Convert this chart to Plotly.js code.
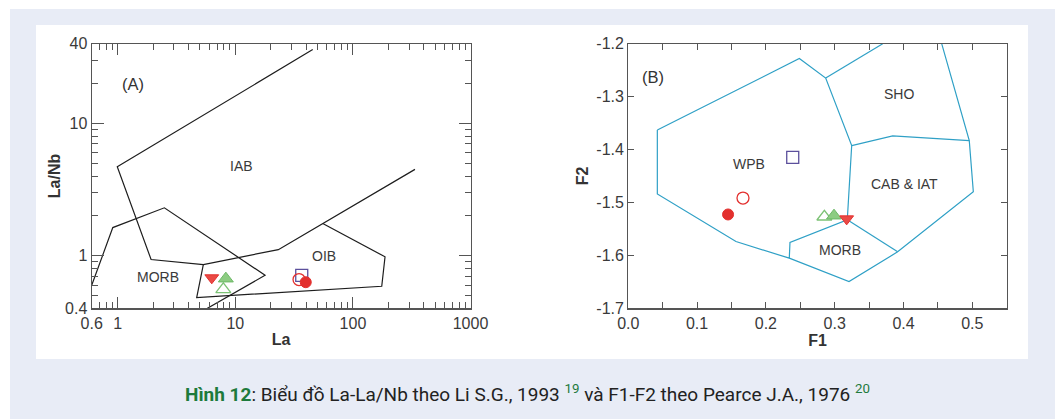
<!DOCTYPE html>
<html>
<head>
<meta charset="utf-8">
<script src="https://cdn.plot.ly/plotly-3.0.1.min.js"></script>
<style>
  html, body { margin: 0; padding: 0; background: #ffffff; }
  #chart { width: 1058px; height: 419px; }
</style>
</head>
<body>
<div id="chart"></div>
<script>
// ---------- Panel A: La vs La/Nb (log-log) ----------
// sample order: filled circle, open circle, down triangle, filled up triangle, open up triangle, open square
const aLa   = [39.7, 34.8, 6.3, 8.3, 7.9, 36.7];
const aLaNb = [0.63, 0.66, 0.68, 0.67, 0.557, 0.71];

// field boundaries (Li S.G., 1993)
const iabX  = [45.5, 0.99, 1.92, 5.34, 23.2, 55.4, 337];
const iabY  = [36.1, 4.70, 0.935, 0.857, 1.11, 1.75, 4.49];
const oibX  = [55.4, 187.5, 175.8, 4.69, 5.34];
const oibY  = [1.75, 0.98, 0.587, 0.482, 0.857];
const morbAX = [0.6, 0.907, 2.49, 17.9, 5.53];
const morbAY = [0.597, 1.63, 2.30, 0.711, 0.391];

const aXTicks = [0.6, 1, 10, 100, 1000];
const aXTickText = ['0.6', '1', '10', '100', '1000'];
const aXMinor = [0.7, 0.8, 0.9, 2, 3, 4, 5, 6, 7, 8, 9, 20, 30, 40, 50, 60, 70, 80, 90, 200, 300, 400, 500, 600, 700, 800, 900];
const aYTicks = [0.4, 1, 10, 40];
const aYTickText = ['0.4', '1', '10', '40'];
const aYMinor = [0.5, 0.6, 0.7, 0.8, 0.9, 2, 3, 4, 5, 6, 7, 8, 9, 20, 30];

const aFieldLabels = ['IAB', 'MORB', 'OIB'];
const aFieldLabelX = [11.3, 2.21, 56.8];
const aFieldLabelY = [4.77, 0.684, 1.0];

// ---------- Panel B: F1 vs F2 (Pearce J.A., 1976) ----------
const bF1 = [0.145, 0.1667, 0.3174, 0.299, 0.285, 0.239];
const bF2 = [-1.5227, -1.4917, -1.531, -1.525, -1.527, -1.4147];

const wpbX = [0.0422, 0.2486, 0.2869, 0.3247, 0.3183, 0.235, 0.234, 0.1565, 0.0422, 0.0422];
const wpbY = [-1.363, -1.228, -1.265, -1.3926, -1.5328, -1.5757, -1.6053, -1.5739, -1.484, -1.363];
const shoLeftX = [0.3698, 0.2869];
const shoLeftY = [-1.2, -1.265];
const cabTopX = [0.3247, 0.3843, 0.4956];
const cabTopY = [-1.3926, -1.3742, -1.3831];
const outerRightX = [0.4555, 0.4956, 0.5015, 0.3915, 0.3208, 0.234];
const outerRightY = [-1.2, -1.3831, -1.4797, -1.5933, -1.6496, -1.6053];
const morbTopX = [0.3183, 0.3915];
const morbTopY = [-1.5328, -1.5933];

const bXTicks = [0, 0.1, 0.2, 0.3, 0.4, 0.5];
const bXTickText = ['0.0', '0.1', '0.2', '0.3', '0.4', '0.5'];
const bYTicks = [-1.7, -1.6, -1.5, -1.4, -1.3, -1.2];
const bYTickText = ['-1.7', '-1.6', '-1.5', '-1.4', '-1.3', '-1.2'];

const bFieldLabels = ['SHO', 'WPB', 'CAB &amp; IAT', 'MORB'];
const bFieldLabelX = [0.393, 0.175, 0.402, 0.3077];
const bFieldLabelY = [-1.296, -1.427, -1.465, -1.590];

const captionText = '<b><span style="color:#1d7a3c">Hình 12</span></b>: Biểu đồ La-La/Nb theo Li S.G., 1993 <sup><span style="color:#1d7a3c">19</span></sup> và F1-F2 theo Pearce J.A., 1976 <sup><span style="color:#1d7a3c">20</span></sup>';

// ---------- styles ----------
const RED = '#e3302e';
const GREEN = '#7cc275';
const PURPLE = '#5b4f9c';
const CYAN = '#2fa0c6';
const markerStyles = [
  {symbol: 'circle', size: 11, color: RED, line: {color: RED, width: 1}},
  {symbol: 'circle-open', size: 12, color: RED, line: {color: RED, width: 1.3}},
  {symbol: 'triangle-down', size: 12, color: '#ea4a45', line: {color: '#e3302e', width: 1}},
  {symbol: 'triangle-up', size: 13, color: '#8ccc82', line: {color: '#6cb866', width: 1}},
  {symbol: 'triangle-up-open', size: 13, color: GREEN, line: {color: GREEN, width: 1.3}},
  {symbol: 'square-open', size: 12, color: PURPLE, line: {color: PURPLE, width: 1.3}}
];

const traces = [];
function line(x, y, color, xa, ya) {
  traces.push({x: x, y: y, xaxis: xa, yaxis: ya, type: 'scatter', mode: 'lines',
    line: {color: color, width: 1.2}, hoverinfo: 'skip', showlegend: false});
}
line(iabX, iabY, '#1e1e1e', 'x', 'y');
line(oibX, oibY, '#1e1e1e', 'x', 'y');
line(morbAX, morbAY, '#1e1e1e', 'x', 'y');
line(wpbX, wpbY, CYAN, 'x2', 'y2');
line(shoLeftX, shoLeftY, CYAN, 'x2', 'y2');
line(cabTopX, cabTopY, CYAN, 'x2', 'y2');
line(outerRightX, outerRightY, CYAN, 'x2', 'y2');
line(morbTopX, morbTopY, CYAN, 'x2', 'y2');

const drawOrder = [4, 3, 2, 5, 1, 0];
drawOrder.forEach(function (i) {
  const ms = markerStyles[i];
  traces.push({x: [aLa[i]], y: [aLaNb[i]], xaxis: 'x', yaxis: 'y', type: 'scatter', mode: 'markers',
    marker: ms, showlegend: false, cliponaxis: false});
  traces.push({x: [bF1[i]], y: [bF2[i]], xaxis: 'x2', yaxis: 'y2', type: 'scatter', mode: 'markers',
    marker: ms, showlegend: false, cliponaxis: false});
});

const W = 1058, H = 419;
const AXC = '#555555';
const FAM = 'Liberation Sans, Arial, sans-serif';
const tickFont = {family: FAM, size: 16, color: '#3a3a3a'};
const titleFont = {family: FAM, size: 16, color: '#333333', weight: 'bold'};
const labelFont = {family: FAM, size: 14, color: '#3a3a3a'};

const yDom = [1 - 308.3 / H, 1 - 43.7 / H];
const annotations = [];
aFieldLabels.forEach(function (t, i) {
  annotations.push({xref: 'x', yref: 'y', x: Math.log10(aFieldLabelX[i]), y: Math.log10(aFieldLabelY[i]),
    text: t, showarrow: false, font: labelFont});
});
bFieldLabels.forEach(function (t, i) {
  annotations.push({xref: 'x2', yref: 'y2', x: bFieldLabelX[i], y: bFieldLabelY[i],
    text: t, showarrow: false, font: labelFont});
});
annotations.push({xref: 'paper', yref: 'paper', x: 120 / W, y: 1 - 73 / H, text: '(A)',
  showarrow: false, font: {family: FAM, size: 16.5, color: '#333'}});
annotations.push({xref: 'paper', yref: 'paper', x: 653 / W, y: 1 - 66 / H, text: '(B)',
  showarrow: false, font: {family: FAM, size: 16.5, color: '#333'}});
annotations.push({xref: 'paper', yref: 'paper', x: 527 / W, y: 1 - 393 / H, yanchor: 'middle',
  text: captionText, showarrow: false,
  font: {family: 'Roboto, Noto Sans, sans-serif', size: 19, color: '#222222'}});

const commonAxis = {showline: true, linecolor: AXC, linewidth: 1.2, mirror: 'ticks', ticks: 'inside',
  tickcolor: AXC, showgrid: false, zeroline: false, tickfont: tickFont, fixedrange: true};

const layout = {
  width: W, height: H,
  margin: {l: 0, r: 0, t: 0, b: 0},
  paper_bgcolor: 'rgba(0,0,0,0)', plot_bgcolor: 'rgba(0,0,0,0)',
  showlegend: false,
  shapes: [
    {type: 'rect', xref: 'paper', yref: 'paper', x0: 10 / W, x1: 1055 / W, y0: 0, y1: 1 - 9 / H,
      fillcolor: '#e8ecf6', line: {width: 0}, layer: 'below'},
    {type: 'rect', xref: 'paper', yref: 'paper', x0: 36 / W, x1: 1028 / W, y0: 1 - 359 / H, y1: 1 - 25 / H,
      fillcolor: '#ffffff', line: {width: 0}, layer: 'below'}
  ],
  xaxis: Object.assign({}, commonAxis, {
    type: 'log', domain: [91.7 / W, 470.5 / W], range: [Math.log10(0.6), 3],
    tickmode: 'array', tickvals: aXTicks, ticktext: aXTickText, ticklen: 11,
    minor: {tickmode: 'array', tickvals: aXMinor, ticks: 'inside', ticklen: 6, tickcolor: AXC, showgrid: false},
    title: {text: 'La', font: titleFont, standoff: 3}, anchor: 'y'
  }),
  yaxis: Object.assign({}, commonAxis, {
    type: 'log', domain: yDom, range: [Math.log10(0.4), Math.log10(40)],
    tickmode: 'array', tickvals: aYTicks, ticktext: aYTickText, ticklen: 12,
    minor: {tickmode: 'array', tickvals: aYMinor, ticks: 'inside', ticklen: 6, tickcolor: AXC, showgrid: false},
    title: {text: 'La/Nb', font: titleFont, standoff: 0}, anchor: 'x'
  }),
  xaxis2: Object.assign({}, commonAxis, {
    domain: [628.3 / W, 1006.7 / W], range: [0, 0.55],
    tickmode: 'array', tickvals: bXTicks, ticktext: bXTickText, ticklen: 6,
    minor: {dtick: 0.05, tick0: 0, ticks: 'inside', ticklen: 6, tickcolor: AXC, showgrid: false},
    title: {text: 'F1', font: titleFont, standoff: 3}, anchor: 'y2'
  }),
  yaxis2: Object.assign({}, commonAxis, {
    domain: yDom, range: [-1.7, -1.2],
    tickmode: 'array', tickvals: bYTicks, ticktext: bYTickText, ticklen: 6,
    title: {text: 'F2', font: titleFont, standoff: 3}, anchor: 'x2'
  }),
  annotations: annotations
};

Plotly.newPlot('chart', traces, layout, {displayModeBar: false, staticPlot: true});
</script>
</body>
</html>
